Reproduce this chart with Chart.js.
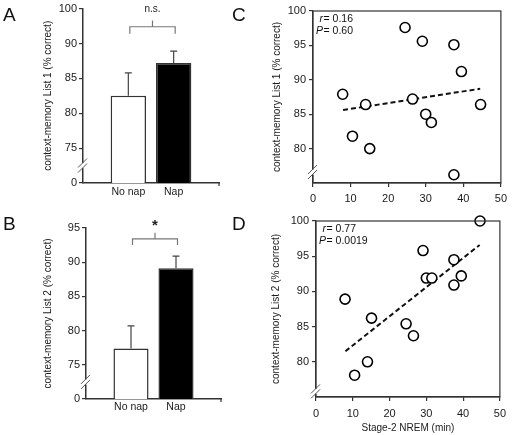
<!DOCTYPE html>
<html>
<head>
<meta charset="utf-8">
<script src="https://cdn.jsdelivr.net/npm/chart.js@4.4.0/dist/chart.umd.min.js"></script>
<style>
body { margin: 0; background: #fff; width: 512px; height: 435px; position: relative; overflow: hidden; font-family: "Liberation Sans", Arial, sans-serif; }
canvas { position: absolute; }
.letra { position: absolute; font-size: 19px; line-height: 19px; color: #111; }
</style>
</head>
<body>
<canvas id="graficoA" width="250" height="210" style="left:0;top:0"></canvas>
<canvas id="graficoB" width="250" height="225" style="left:0;top:210px"></canvas>
<canvas id="graficoC" width="256" height="210" style="left:256px;top:0"></canvas>
<canvas id="graficoD" width="256" height="225" style="left:256px;top:210px"></canvas>
<div class="letra" style="left:3px;top:5px">A</div>
<div class="letra" style="left:3px;top:214px">B</div>
<div class="letra" style="left:232px;top:5px">C</div>
<div class="letra" style="left:232px;top:214px">D</div>
<script>
// barras (media e topo da barra de erro)
const grupos = ['No nap', 'Nap']
const lista1Media = [82.5, 87.2]
const lista1ErroSup = [85.8, 88.9]
const lista2Media = [77.4, 89.1]
const lista2ErroSup = [80.7, 90.9]

// posicoes dos ticks e o texto mostrado em cada um (eixo com quebra)
const ticksBarra1 = [70, 75, 80, 85, 90, 95]
const rotulosBarra1 = ['0', '75', '80', '85', '90', '100']
const ticksBarra2 = [70, 75, 80, 85, 90, 95]
const rotulosBarra2 = ['0', '75', '80', '85', '90', '95']

// dispersao: minutos de estagio 2 x acertos
const estagio2Min = [7.9, 10.5, 14.0, 15.1, 24.5, 26.5, 29.1, 30.0, 31.5, 37.5, 37.5, 39.5, 44.6]
const lista1Acertos = [87.9, 81.8, 86.4, 80.0, 97.6, 87.2, 95.6, 85.0, 83.8, 95.1, 76.2, 91.2, 86.4]
const lista2Acertos = [88.9, 78.1, 80.0, 86.2, 85.4, 83.7, 95.8, 91.9, 91.9, 94.5, 90.9, 92.2, 100]

const retaX = [8, 44.5]
const retaLista1Y = [85.6, 88.7]
const retaLista2Y = [81.5, 96.6]
const ticksDispersao = [80, 85, 90, 95, 100]
const estatLista1 = ['0.16', '0.60']
const estatLista2 = ['0.77', '0.0019']

Chart.defaults.font.family = '"Liberation Sans", Arial, sans-serif'
Chart.defaults.font.size = 10
Chart.defaults.color = '#1a1a1a'
Chart.defaults.animation = false
Chart.defaults.plugins.legend.display = false
Chart.defaults.plugins.tooltip.enabled = false

const fonteTick = { size: 11 }

const enfeites = {
    id: 'enfeites',
    afterDraw(chart, args, op) {
        const ctx = chart.ctx
        const area = chart.chartArea
        const y = chart.scales.y
        ctx.save()
        if (op.moldura) {
            ctx.strokeStyle = '#333'
            ctx.lineWidth = 1.2
            ctx.strokeRect(area.left, area.top, area.right - area.left, area.bottom - area.top)
        }
        if (op.erros) {
            const meta = chart.getDatasetMeta(0)
            ctx.strokeStyle = '#444'
            ctx.lineWidth = 1.2
            op.erros.forEach((v, i) => {
                if (v == null) return
                const barra = meta.data[i]
                const yTopo = y.getPixelForValue(v)
                ctx.beginPath()
                ctx.moveTo(barra.x, barra.y)
                ctx.lineTo(barra.x, yTopo)
                ctx.moveTo(barra.x - 3.5, yTopo)
                ctx.lineTo(barra.x + 3.5, yTopo)
                ctx.stroke()
            })
            // marquinha no fim do eixo x
            ctx.strokeStyle = '#333'
            ctx.beginPath()
            ctx.moveTo(area.right, area.bottom)
            ctx.lineTo(area.right, area.bottom + 3)
            ctx.stroke()
        }
        if (op.chave) {
            const meta = chart.getDatasetMeta(0)
            const x1 = meta.data[1].x + 1.5
            const x2 = meta.data[2].x + 1.5
            const yn = y.getPixelForValue(op.chave.nivel)
            const yp = y.getPixelForValue(op.chave.perna)
            const yt = y.getPixelForValue(op.chave.topo)
            ctx.strokeStyle = '#777'
            ctx.lineWidth = 1.2
            ctx.beginPath()
            ctx.moveTo(x1, yp); ctx.lineTo(x1, yn); ctx.lineTo(x2, yn); ctx.lineTo(x2, yp)
            ctx.moveTo((x1 + x2) / 2, yn); ctx.lineTo((x1 + x2) / 2, yt)
            ctx.stroke()
            ctx.fillStyle = '#222'
            ctx.textAlign = 'center'
            ctx.textBaseline = 'middle'
            ctx.font = op.chave.fonte
            ctx.fillText(op.chave.texto, (x1 + x2) / 2, y.getPixelForValue(op.chave.textoY))
        }
        if (op.quebra != null) {
            const yb = y.getPixelForValue(op.quebra)
            const xl = area.left
            ctx.fillStyle = '#fff'
            ctx.fillRect(xl - 2, yb - 2.5, 4, 5)
            ctx.strokeStyle = '#555'
            ctx.lineWidth = 1
            for (const d of [-2.5, 2.5]) {
                ctx.beginPath()
                ctx.moveTo(xl - 5, yb + d + 4.5)
                ctx.lineTo(xl + 4, yb + d - 4.5)
                ctx.stroke()
            }
        }
        if (op.estat) {
            ctx.fillStyle = '#111'
            ctx.textBaseline = 'middle'
            const linhas = [['r', op.estat[0], 8], ['P', op.estat[1], 20.5]]
            for (const [letra, valor, dy] of linhas) {
                ctx.font = 'italic 10.5px "Liberation Sans", Arial, sans-serif'
                ctx.textAlign = 'right'
                ctx.fillText(letra, area.left + 10, area.top + dy)
                ctx.font = '10.5px "Liberation Sans", Arial, sans-serif'
                ctx.textAlign = 'left'
                ctx.fillText('= ' + valor, area.left + 10.5, area.top + dy)
            }
        }
        ctx.restore()
    }
}

function graficoBarras(id, medias, erros, ticks, rotulos, titulo, tam, chave, quebra) {
    return new Chart(document.getElementById(id), {
        type: 'bar',
        data: {
            labels: ['', ...grupos, ''],
            datasets: [{
                data: [null, ...medias, null],
                backgroundColor: ['#fff', '#fff', '#000', '#fff'],
                borderColor: '#333',
                borderWidth: 1.5,
                barPercentage: 0.78,
                categoryPercentage: 1
            }]
        },
        options: {
            responsive: false,
            layout: { padding: { top: tam.topo, right: tam.direita, bottom: 0, left: 0 } },
            scales: {
                x: {
                    offset: false,
                    grid: { display: false, drawTicks: false },
                    border: { color: '#333', width: 1.5 },
                    ticks: { padding: tam.padX, autoSkip: false, maxRotation: 0, font: { size: 10.5 } },
                    afterFit: s => { s.height = tam.altX }
                },
                y: {
                    min: ticks[0],
                    max: ticks[ticks.length - 1],
                    afterBuildTicks: s => { s.ticks = ticks.map(v => ({ value: v })) },
                    afterFit: s => { s.width = tam.largY },
                    ticks: { padding: 2, font: fonteTick, callback: v => rotulos[ticks.indexOf(v)] },
                    grid: { drawOnChartArea: false, tickLength: 4, color: '#333', lineWidth: 1.2 },
                    border: { color: '#333', width: 1.5 },
                    title: { display: true, text: titulo, padding: { top: 42, bottom: 0 }, font: { size: 10 } }
                }
            },
            plugins: { enfeites: { erros: [null, ...erros, null], chave: chave, quebra: quebra } }
        },
        plugins: [enfeites]
    })
}

function graficoDispersao(id, acertos, retaY, titulo, tituloX, tam, estat, quebra) {
    const pontos = estagio2Min.map((m, i) => ({ x: m, y: acertos[i] }))
    const reta = retaX.map((m, i) => ({ x: m, y: retaY[i] }))
    return new Chart(document.getElementById(id), {
        type: 'scatter',
        data: {
            datasets: [{
                data: pontos,
                pointRadius: 5,
                pointBackgroundColor: '#fff',
                pointBorderColor: '#000',
                pointBorderWidth: 1.6,
                clip: false
            }, {
                data: reta,
                showLine: true,
                pointRadius: 0,
                borderColor: '#111',
                borderWidth: 2,
                borderDash: [5, 3]
            }]
        },
        options: {
            responsive: false,
            layout: { padding: { top: tam.topo, right: tam.direita, bottom: 0, left: 0 } },
            scales: {
                x: {
                    type: 'linear',
                    min: 0,
                    max: 50,
                    ticks: { stepSize: 10, padding: tam.padX, font: fonteTick },
                    grid: { drawOnChartArea: false, tickLength: 4, color: '#333', lineWidth: 1.2 },
                    border: { color: '#333', width: 1.2 },
                    title: { display: !!tituloX, text: tituloX, padding: { top: 0, bottom: 1 }, font: { size: 10 } },
                    afterFit: s => { s.height = tam.altX }
                },
                y: {
                    min: 75,
                    max: 100,
                    afterBuildTicks: s => { s.ticks = ticksDispersao.map(v => ({ value: v })) },
                    afterFit: s => { s.width = tam.largY },
                    ticks: { padding: 3, font: fonteTick },
                    grid: { drawOnChartArea: false, tickLength: 4, color: '#333', lineWidth: 1.2 },
                    border: { color: '#333', width: 1.2 },
                    title: { display: true, text: titulo, padding: { top: tam.padTitulo, bottom: 0 }, font: { size: 10 } }
                }
            },
            plugins: { enfeites: { moldura: true, estat: estat, quebra: quebra } }
        },
        plugins: [enfeites]
    })
}

graficoBarras('graficoA', lista1Media, lista1ErroSup, ticksBarra1, rotulosBarra1,
    'context-memory List 1 (% correct)',
    { topo: 7, direita: 31, altX: 27, largY: 83, padX: 3 },
    { nivel: 92.4, perna: 91.4, topo: 93.3, texto: 'n.s.', textoY: 94.9, fonte: '10px "Liberation Sans", Arial, sans-serif' },
    72.5)

graficoBarras('graficoB', lista2Media, lista2ErroSup, ticksBarra2, rotulosBarra2,
    'context-memory List 2 (% correct)',
    { topo: 18, direita: 29, altX: 36, largY: 86, padX: 2 },
    { nivel: 93.4, perna: 92.5, topo: 94.3, texto: '*', textoY: 95.3, fonte: 'bold 15px "Liberation Sans", Arial, sans-serif' },
    72.5)

graficoDispersao('graficoC', lista1Acertos, retaLista1Y,
    'context-memory List 1 (% correct)', '',
    { topo: 11, direita: 9, altX: 27, largY: 57, padX: 5, padTitulo: 15 },
    estatLista1, 76.6)

graficoDispersao('graficoD', lista2Acertos, retaLista2Y,
    'context-memory List 2 (% correct)', 'Stage-2 NREM (min)',
    { topo: 11, direita: 10, altX: 38, largY: 60, padX: 6, padTitulo: 14 },
    estatLista2, 75.8)
</script>
</body>
</html>
